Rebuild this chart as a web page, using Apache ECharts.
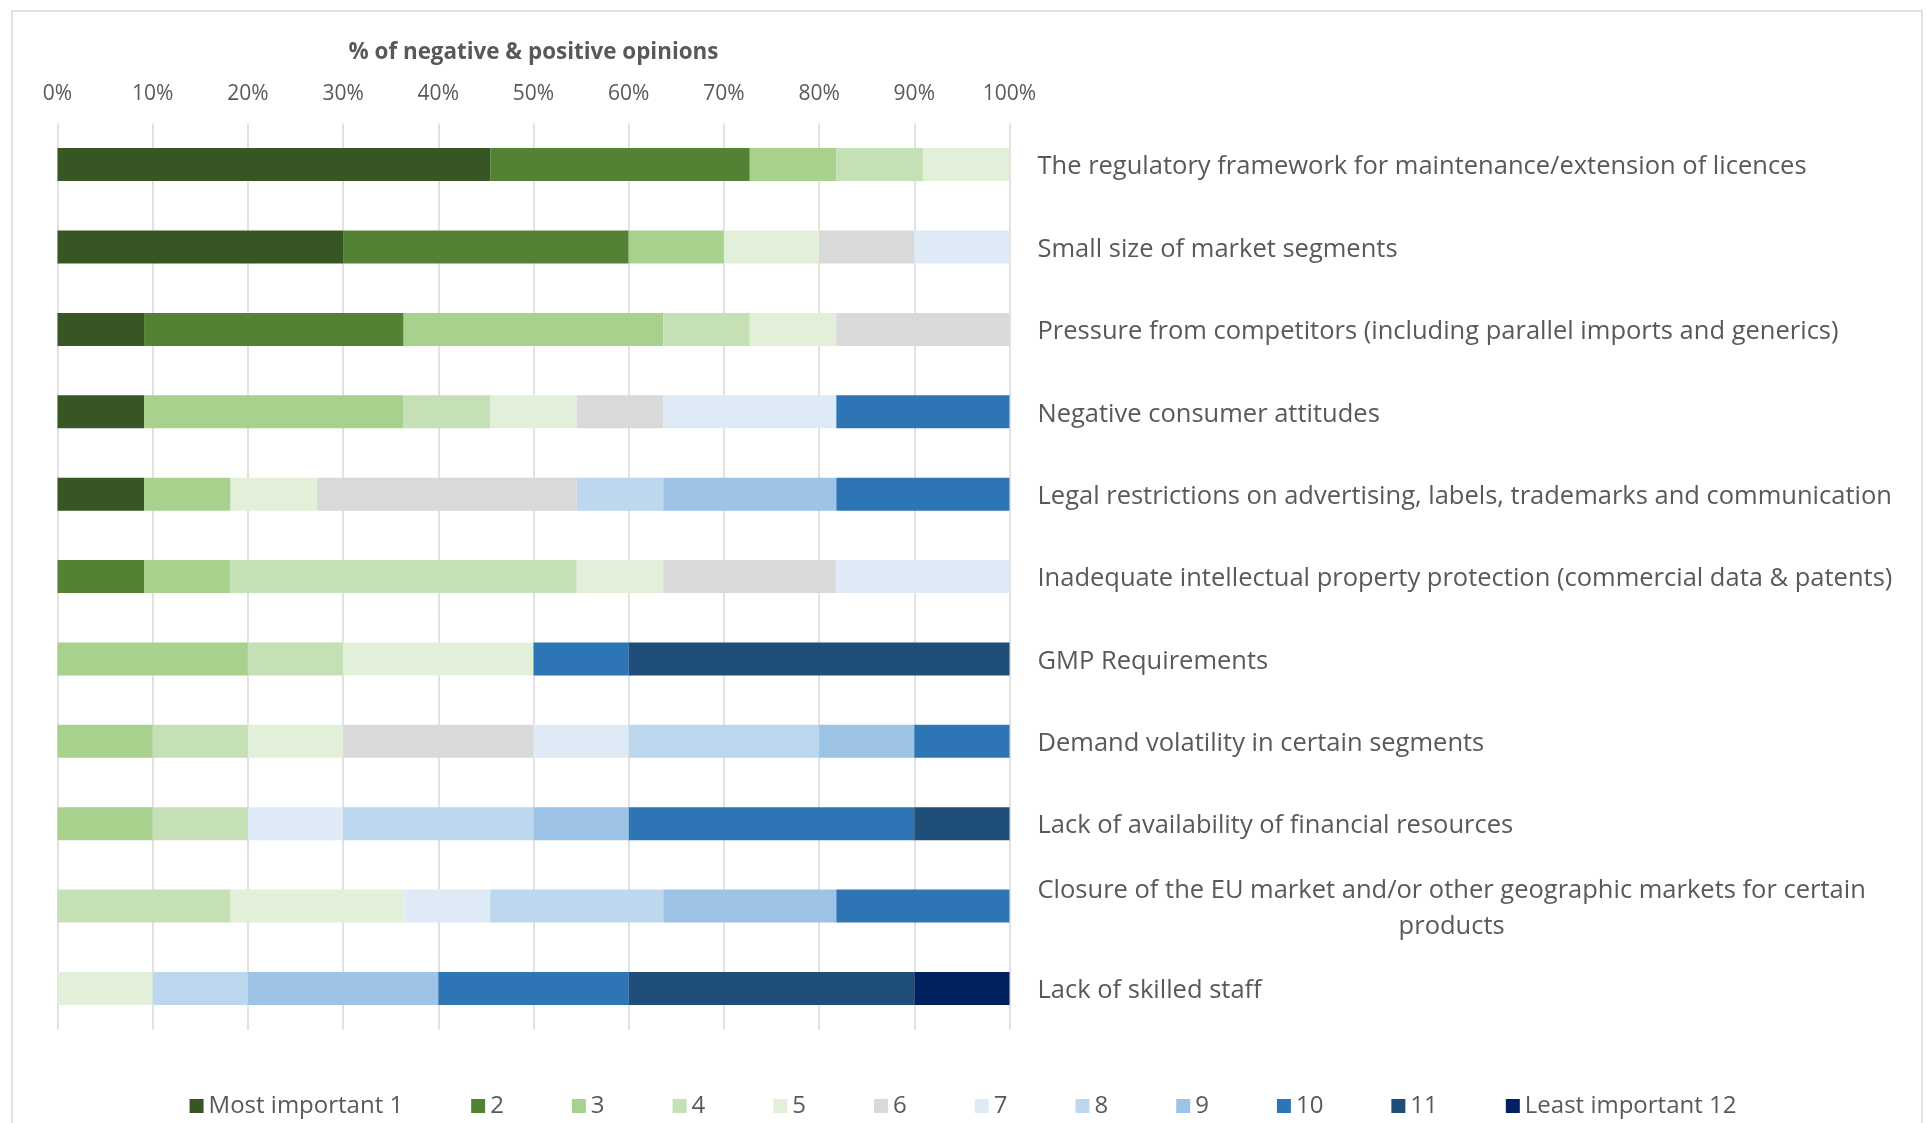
<!DOCTYPE html>
<html>
<head>
<meta charset="utf-8">
<script src="https://cdn.jsdelivr.net/npm/echarts@6/dist/echarts.min.js"></script>
<style>
html,body{margin:0;padding:0;background:#fff;}
#chart{width:1926px;height:1123px;}
</style>
</head>
<body>
<div id="chart"></div>
<script>
const categories = [
  'The regulatory framework for maintenance/extension of licences',
  'Small size of market segments',
  'Pressure from competitors (including parallel imports and generics)',
  'Negative consumer attitudes',
  'Legal restrictions on advertising, labels, trademarks and communication',
  'Inadequate intellectual property protection (commercial data & patents)',
  'GMP Requirements',
  'Demand volatility in certain segments',
  'Lack of availability of financial resources',
  'Closure of the EU market and/or other geographic markets for certain products',
  'Lack of skilled staff'
];
const seriesNames = ['Most important 1','2','3','4','5','6','7','8','9','10','11','Least important 12'];
const seriesColors = ['#375623','#548235','#A9D18E','#C5E0B4','#E2F0D9','#D9D9D9','#DEEBF7','#BDD7EE','#9DC3E6','#2E75B6','#1F4E79','#002060'];
const rank1  = [45.45, 30, 9.09, 9.09, 9.09, 0, 0, 0, 0, 0, 0];
const rank2  = [27.27, 30, 27.27, 0, 0, 9.09, 0, 0, 0, 0, 0];
const rank3  = [9.09, 10, 27.27, 27.27, 9.09, 9.09, 20, 10, 10, 0, 0];
const rank4  = [9.09, 0, 9.09, 9.09, 0, 36.36, 10, 10, 10, 18.18, 0];
const rank5  = [9.09, 10, 9.09, 9.09, 9.09, 9.09, 20, 10, 0, 18.18, 10];
const rank6  = [0, 10, 18.18, 9.09, 27.27, 18.18, 0, 20, 0, 0, 0];
const rank7  = [0, 10, 0, 18.18, 0, 18.18, 0, 10, 10, 9.09, 0];
const rank8  = [0, 0, 0, 0, 9.09, 0, 0, 20, 20, 18.18, 10];
const rank9  = [0, 0, 0, 0, 18.18, 0, 0, 10, 10, 18.18, 20];
const rank10 = [0, 0, 0, 18.18, 18.18, 0, 10, 10, 30, 18.18, 20];
const rank11 = [0, 0, 0, 0, 0, 0, 40, 0, 10, 0, 30];
const rank12 = [0, 0, 0, 0, 0, 0, 0, 0, 0, 0, 10];
const rankData = [rank1,rank2,rank3,rank4,rank5,rank6,rank7,rank8,rank9,rank10,rank11,rank12];

const FONT = '"Open Sans", sans-serif';
const TXT = '#595959';
const CAT_FS = 25.5;

const chart = echarts.init(document.getElementById('chart'), null, {renderer:'canvas'});
const option = {
  backgroundColor: '#fff',
  animation: false,
  graphic: [{
    type: 'rect',
    shape: {x: 12, y: 11, width: 1910, height: 1200},
    style: {fill: 'none', stroke: '#D9D9D9', lineWidth: 1.5},
    silent: true, z: -10
  }],
  grid: {left: 57.5, right: 916.5, top: 123.4, height: 906.3, containLabel: false},
  legend: {
    bottom: 0, left: 'center',
    itemWidth: 14, itemHeight: 14, itemGap: 68, icon: 'rect',
    textStyle: {color: TXT, fontSize: 24, fontFamily: FONT},
    data: seriesNames
  },
  xAxis: {
    type: 'value', position: 'top', min: 0, max: 100, interval: 10,
    name: '% of negative & positive opinions', nameLocation: 'middle', nameGap: 60,
    nameTextStyle: {color: TXT, fontSize: 22.4, fontWeight: 'bold', fontFamily: FONT},
    axisLine: {show: false}, axisTick: {show: false},
    axisLabel: {color: TXT, fontSize: 21, fontFamily: FONT, margin: 19, formatter: v => v + '%'},
    splitLine: {show: true, lineStyle: {color: '#D9D9D9', width: 1.5}}
  },
  yAxis: {
    type: 'category', inverse: true, position: 'right', data: categories,
    axisLine: {show: false}, axisTick: {show: false},
    axisLabel: {
      align: 'left', margin: 28, color: TXT, fontSize: CAT_FS, fontFamily: FONT,
      padding: [5, 0, 0, 0],
      formatter: function (v) {
        if (v.indexOf('Closure') === 0) {
          return '{a|Closure of the EU market and/or other geographic markets for certain}\n{c|products}';
        }
        return v;
      },
      rich: {
        a: {color: TXT, fontSize: CAT_FS, fontFamily: FONT, lineHeight: 36},
        c: {color: TXT, fontSize: CAT_FS, fontFamily: FONT, lineHeight: 36, align: 'center'}
      }
    }
  },
  series: seriesNames.map((n, i) => ({
    name: n, type: 'bar', stack: 'total', barWidth: 33,
    itemStyle: {color: seriesColors[i]},
    data: rankData[i]
  }))
};
chart.setOption(option);
</script>
</body>
</html>
